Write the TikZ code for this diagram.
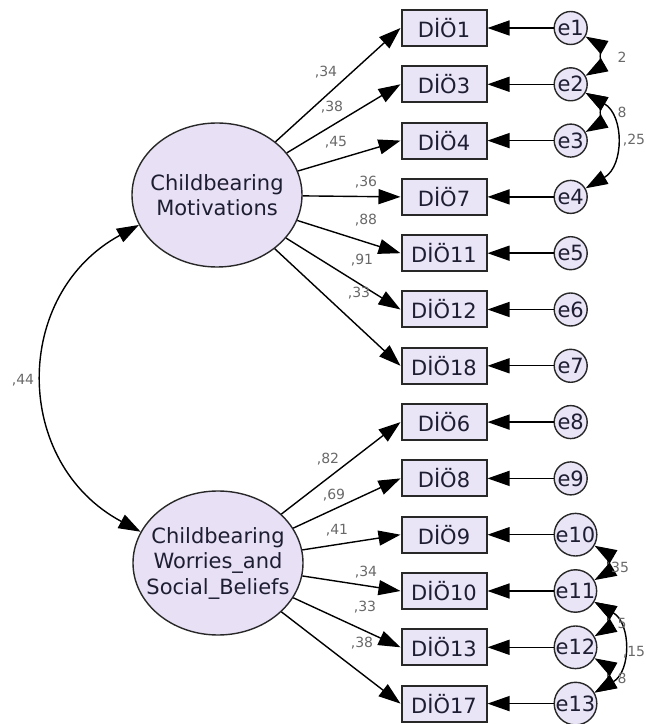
\documentclass[tikz,border=0pt]{standalone}
\usepackage{fontspec}
\setmainfont{DejaVu Sans}
\usepackage{tikz}
\usetikzlibrary{positioning,arrows.meta,shapes.geometric}
\usepackage{xcolor}
\definecolor{boxfill}{RGB}{233,228,246}
\definecolor{latfill}{RGB}{232,224,245}
\definecolor{inkline}{RGB}{40,40,40}
\definecolor{labgray}{RGB}{105,105,105}
\definecolor{txtdark}{RGB}{30,30,50}

\begin{document}
\begin{tikzpicture}[
  x=1pt, y=1pt,
  node distance=18.3pt,
  lat/.style ={draw=inkline, ellipse, line width=1.4pt, fill=latfill, minimum width=170pt, minimum height=144pt, inner sep=0pt},
  lattext/.style={align=center, text=txtdark, inner sep=0pt, font=\fontsize{21}{25.5}\selectfont},
  obs/.style ={draw=inkline, rectangle, line width=2pt, fill=boxfill, minimum width=85pt, minimum height=36pt, inner sep=0pt, text=txtdark, font=\fontsize{21}{21}\selectfont},
  err/.style ={draw=inkline, circle, line width=1.4pt, fill=boxfill, minimum size=33pt, inner sep=0pt, text=txtdark, font=\fontsize{21}{21}\selectfont},
  coef/.style={text=labgray, inner sep=0pt, font=\fontsize{14}{14}\selectfont},
  load/.style={-{Triangle[length=22pt,width=15pt]}, line width=1.4pt},
  cov/.style ={{Triangle[length=22pt,width=15pt]}-{Triangle[length=22pt,width=15pt]}, line width=1.4pt},
]
\useasboundingbox (0,0) rectangle (646,724);

\node[lat, label={[lattext]center:Childbearing\\Motivations}] (mot) at (217,529) {};
\node[lat, label={[lattext]center:Childbearing\\Worries\_and\\Social\_Beliefs}] (wor) at (218,161) {};

\node[obs] (d1) at (444,696) {DİÖ1};
\node[obs, below=of d1] (d3) {DİÖ3};
\node[obs, below=of d3] (d4) {DİÖ4};
\node[obs, below=of d4] (d7) {DİÖ7};
\node[obs, below=of d7] (d11) {DİÖ11};
\node[obs, below=of d11] (d12) {DİÖ12};
\node[obs, below=of d12] (d18) {DİÖ18};
\node[obs, below=of d18] (d6) {DİÖ6};
\node[obs, below=of d6] (d8) {DİÖ8};
\node[obs, below=of d8] (d9) {DİÖ9};
\node[obs, below=of d9] (d10) {DİÖ10};
\node[obs, below=of d10] (d13) {DİÖ13};
\node[obs, below=of d13] (d17) {DİÖ17};

\node[err, right=66pt of d1] (e1) {e1};
\node[err, right=66pt of d3] (e2) {e2};
\node[err, right=66pt of d4] (e3) {e3};
\node[err, right=66pt of d7] (e4) {e4};
\node[err, right=66pt of d11] (e5) {e5};
\node[err, right=66pt of d12] (e6) {e6};
\node[err, right=66pt of d18] (e7) {e7};
\node[err, right=66pt of d6] (e8) {e8};
\node[err, right=66pt of d8] (e9) {e9};
\node[err, right=66pt of d9] (e10) {e10};
\node[err, right=66pt of d10] (e11) {e11};
\node[err, right=66pt of d13] (e12) {e12};
\node[err, right=66pt of d17] (e13) {e13};

\draw[load] (mot) -- (d1.west);
\draw[load] (mot) -- (d3.west);
\draw[load] (mot) -- (d4.west);
\draw[load] (mot) -- (d7.west);
\draw[load] (mot) -- (d11.west);
\draw[load] (mot) -- (d12.west);
\draw[load] (mot) -- (d18.west);
\draw[load] (wor) -- (d6.west);
\draw[load] (wor) -- (d8.west);
\draw[load] (wor) -- (d9.west);
\draw[load] (wor) -- (d10.west);
\draw[load] (wor) -- (d13.west);
\draw[load] (wor) -- (d17.west);

\draw[load] (e1) -- (d1);
\draw[load] (e2) -- (d3);
\draw[load] (e3) -- (d4);
\draw[load] (e4) -- (d7);
\draw[load] (e5) -- (d11);
\draw[load] (e6) -- (d12);
\draw[load] (e7) -- (d18);
\draw[load] (e8) -- (d6);
\draw[load] (e9) -- (d8);
\draw[load] (e10) -- (d9);
\draw[load] (e11) -- (d10);
\draw[load] (e12) -- (d13);
\draw[load] (e13) -- (d17);

\draw[cov] (mot.201) .. controls (12,430) and (12,261) .. (wor.158);
\draw[cov] (e1) to[bend left=60] (e2);
\draw[cov] (e2) to[bend left=60] (e3);
\draw[cov] (e2) to[bend left=60, looseness=1.2] (e4);
\draw[cov] (e10) to[bend left=60] (e11);
\draw[cov] (e11) to[bend left=60] (e12);
\draw[cov] (e12) to[bend left=60] (e13);
\draw[cov] (e11) to[bend left=60, looseness=1.2] (e13);

\node[coef] (c44) at (23,344) {,44};
\node[coef] (c1) at (326,652) {,34};
\node[coef] (c3) at (332,617) {,38};
\node[coef] (c4) at (336,582) {,45};
\node[coef] (c7) at (366,542) {,36};
\node[coef] (c11) at (366,504) {,88};
\node[coef] (c12) at (362,464) {,91};
\node[coef] (c18) at (359,431) {,33};
\node[coef] (c6) at (328,265) {,82};
\node[coef] (c8) at (334,229) {,69};
\node[coef] (c9) at (337,194) {,41};
\node[coef] (c10) at (366,152) {,34};
\node[coef] (c13) at (365,117) {,33};
\node[coef] (c17) at (362,81) {,38};
\node[coef] (r12) at (622,667) {2};
\node[coef] (r23) at (622,612) {8};
\node[coef] (r24) at (634,584) {,25};
\node[coef] (r1011) at (620,157) {35};
\node[coef] (r1112) at (622,101) {5};
\node[coef] (r1113) at (634,72) {,15};
\node[coef] (r1213) at (622,46) {8};
\end{tikzpicture}
\end{document}
